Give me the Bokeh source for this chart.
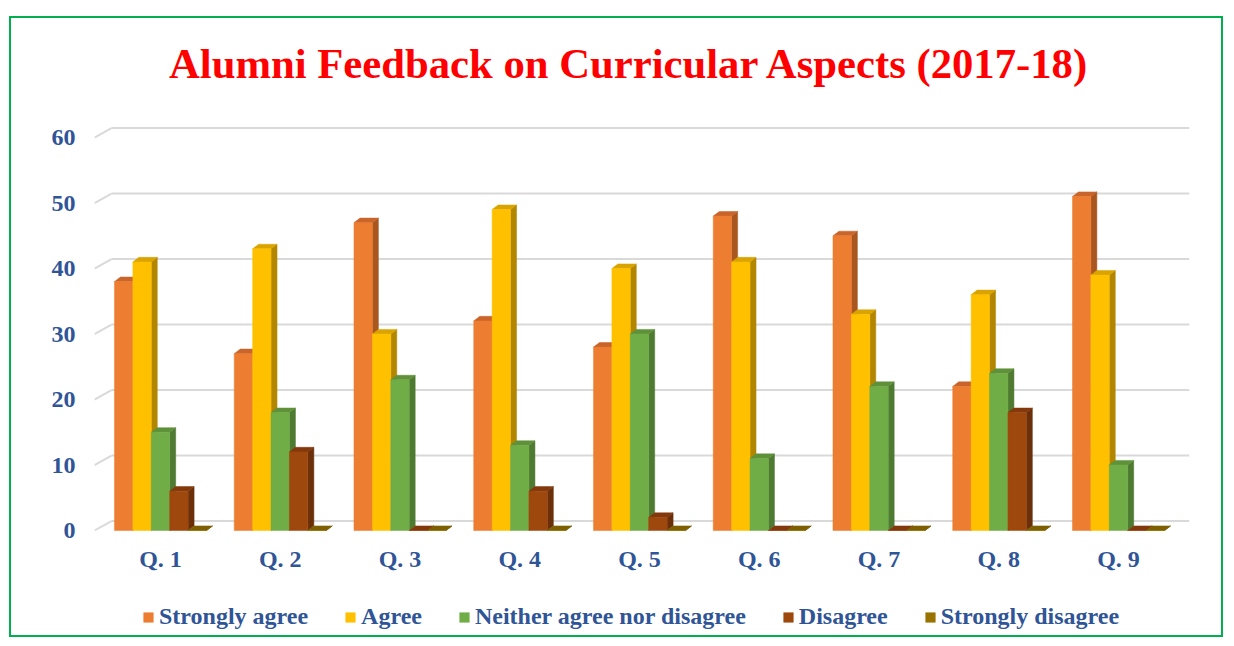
from bokeh.plotting import figure
from bokeh.layouts import column
from bokeh.models import Range1d, FixedTicker, Legend, LegendItem, Div
from bokeh.embed import file_html
from bokeh.resources import INLINE

title_text = "Alumni Feedback on Curricular Aspects (2017-18)"
questions = ["Q. 1", "Q. 2", "Q. 3", "Q. 4", "Q. 5", "Q. 6", "Q. 7", "Q. 8", "Q. 9"]
series_names = ["Strongly agree", "Agree", "Neither agree nor disagree", "Disagree", "Strongly disagree"]
strongly_agree = [38, 27, 47, 32, 28, 48, 45, 22, 51]
agree = [41, 43, 30, 49, 40, 41, 33, 36, 39]
neither = [15, 18, 23, 13, 30, 11, 22, 24, 10]
disagree = [6, 12, 0, 6, 2, 0, 0, 18, 0]
strongly_disagree = [0, 0, 0, 0, 0, 0, 0, 0, 0]
y_ticks = [0, 10, 20, 30, 40, 50, 60]

front_colors = ["#ED7D31", "#FFC000", "#70AD47", "#9E480E", "#997300"]
side_colors = ["#A9561F", "#B38600", "#4E7A31", "#6B300A", "#6B5100"]
top_colors = ["#C9652A", "#D9A300", "#5E9139", "#83390B", "#7F6000"]

all_series = [strongly_agree, agree, neither, disagree, strongly_disagree]

FONT = "Liberation Serif"
BLUE = "#2F5597"

W = 1210
x0, x1 = 0.4489, 9.593
y0, y1 = -1.374, 62.75

# title strip
title_div = Div(width=W, height=101, margin=0,
                text=('<div style="font-family:\'Liberation Serif\';font-weight:bold;font-size:42.7px;'
                      'color:#FF0000;line-height:50px;padding-top:21px;padding-left:158px;'
                      'white-space:nowrap;">' + title_text + '</div>'))

p = figure(width=W, height=473, output_backend="svg", toolbar_location=None,
           x_range=Range1d(x0, x1), y_range=Range1d(y0, y1),
           min_border_left=83, min_border_right=32, min_border_top=0, min_border_bottom=53)
p.outline_line_color = None
p.xgrid.visible = False
p.ygrid.visible = False
p.background_fill_color = "white"
p.border_fill_color = "white"

# 3D-like gridlines (front diagonal + back wall line)
gx, gy = 0.142, 1.45
p.segment(x0=[x0] * len(y_ticks), y0=y_ticks, x1=[x0 + gx] * len(y_ticks), y1=[t + gy for t in y_ticks],
          line_color="#D9D9D9", line_width=2)
p.segment(x0=[x0 + gx] * len(y_ticks), y0=[t + gy for t in y_ticks], x1=[x1] * len(y_ticks),
          y1=[t + gy for t in y_ticks], line_color="#D9D9D9", line_width=2)

# legend strip (separate figure below the chart); its ranges keep the bars out of view
lg = figure(width=W, height=43, output_backend="svg", toolbar_location=None,
            x_range=Range1d(100, 101), y_range=Range1d(100, 101), x_axis_type=None, y_axis_type=None,
            min_border_left=0, min_border_right=0, min_border_top=0, min_border_bottom=0)
lg.outline_line_color = None
lg.xgrid.visible = False
lg.ygrid.visible = False

bw = 0.1537
dx, dz = 0.0501, 0.70
items = []
for k, (name, vals) in enumerate(zip(series_names, all_series)):
    xs = [i + 1 + (k - 2) * bw for i in range(len(vals))]
    lefts = [x - bw / 2 for x in xs]
    rights = [x + bw / 2 for x in xs]
    side_x = [[r, r + dx, r + dx, r] for r in rights]
    side_y = [[0, dz, v + dz, v] for v in vals]
    top_x = [[l, r, r + dx, l + dx] for l, r in zip(lefts, rights)]
    top_y = [[v, v, v + dz, v + dz] for v in vals]
    p.patches(side_x, side_y, fill_color=side_colors[k], line_color=side_colors[k], line_width=0.5)
    p.patches(top_x, top_y, fill_color=top_colors[k], line_color=top_colors[k], line_width=0.5)
    p.vbar(x=xs, top=vals, bottom=0, width=bw, fill_color=front_colors[k],
           line_color=front_colors[k], line_width=0.5)
    r = lg.vbar(x=xs, top=vals, bottom=0, width=bw, fill_color=front_colors[k],
                line_color=front_colors[k], line_width=0.5)
    items.append(LegendItem(label=name, renderers=[r]))

# axes
p.xaxis.ticker = FixedTicker(ticks=list(range(1, len(questions) + 1)))
p.xaxis.major_label_overrides = {i + 1: q for i, q in enumerate(questions)}
p.yaxis.ticker = FixedTicker(ticks=y_ticks)
for ax in (p.xaxis[0], p.yaxis[0]):
    ax.axis_line_color = None
    ax.major_tick_line_color = None
    ax.minor_tick_line_color = None
    ax.major_label_text_font = FONT
    ax.major_label_text_font_style = "bold"
    ax.major_label_text_font_size = "24px"
    ax.major_label_text_color = BLUE
p.xaxis.major_label_standoff = 0
p.yaxis.major_label_standoff = 13

legend = Legend(items=items, orientation="horizontal", location=(48, 5),
                label_text_font=FONT, label_text_font_style="bold", label_text_font_size="24px",
                label_text_color=BLUE, glyph_width=12, glyph_height=12, label_standoff=5,
                spacing=36, border_line_color=None, background_fill_alpha=0, padding=0, margin=0)
lg.add_layout(legend)

layout = column(title_div, p, lg, spacing=0)
layout.margin = (16, 0, 0, 9)
layout.styles = {"border": "2px solid #00B050"}

open("out.html", "w").write(file_html(layout, INLINE))
